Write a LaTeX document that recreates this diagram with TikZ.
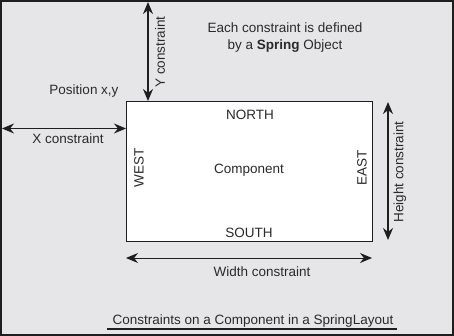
\documentclass[tikz,border=0pt]{standalone}
\usepackage{fontspec}
\setmainfont{Liberation Sans}
\usetikzlibrary{arrows.meta}
\definecolor{bgc}{HTML}{E6E6E8}
\definecolor{ink}{HTML}{1E1E1E}
\definecolor{txt}{HTML}{2A2A2A}
\begin{document}
\begin{tikzpicture}[x=1pt,y=-1pt,
  lbl/.style={inner sep=0pt,text=txt,font=\fontsize{13.5}{17}\selectfont},
  dim/.style={draw=ink,line width=1.4pt,{Stealth[length=12pt,width=10pt]}-{Stealth[length=12pt,width=10pt]}}]
\fill[bgc] (0,0) rectangle (454,336);
\draw[ink,line width=2pt] (1,1) rectangle (453,335);
\useasboundingbox (0,0) rectangle (454,336);
% component
\node[draw=ink,fill=white,line width=1pt,minimum width=246pt,minimum height=140pt,inner sep=0pt,anchor=north west] (comp) at (126,101) {};
\coordinate (ytop) at (148,2);
\coordinate (ybot) at (148,101);
\coordinate (xl) at (2,128.5);
\coordinate (xr) at (126,128.5);
\coordinate (ht) at (388,102);
\coordinate (hb) at (388,240);
\coordinate (wl) at (126,258);
\coordinate (wr) at (372,258);
\draw[dim] (ytop) -- (ybot);
\draw[dim] (xl) -- (xr);
\draw[dim] (ht) -- (hb);
\draw[dim,line width=1pt] (wl) -- (wr);
\node[lbl,rotate=90] (yc) at (160,52) {Y constraint};
\node[lbl] (pos) at (84,91) {Position x,y};
\node[lbl] (xc) at (68,139) {X constraint};
\node[lbl] (north) at (250,115) {NORTH};
\node[lbl] (cmp) at (249,170) {Component};
\node[lbl] (south) at (249,233) {SOUTH};
\node[lbl,rotate=90] (west) at (139,168) {WEST};
\node[lbl,rotate=90] (east) at (362,168) {EAST};
\node[lbl,rotate=90] (hc) at (400,172) {Height constraint};
\node[lbl] (wc) at (262,272) {Width constraint};
\node[lbl,align=center] (note) at (285,37.5) {Each constraint is defined\\by a \textbf{Spring} Object};
\node[lbl] (cap) at (253,321) {Constraints on a Component in a SpringLayout};
\coordinate (ul) at (107,329);
\coordinate (ur) at (397,329);
\draw[ink,line width=1.6pt] (ul) -- (ur);
\end{tikzpicture}
\end{document}
